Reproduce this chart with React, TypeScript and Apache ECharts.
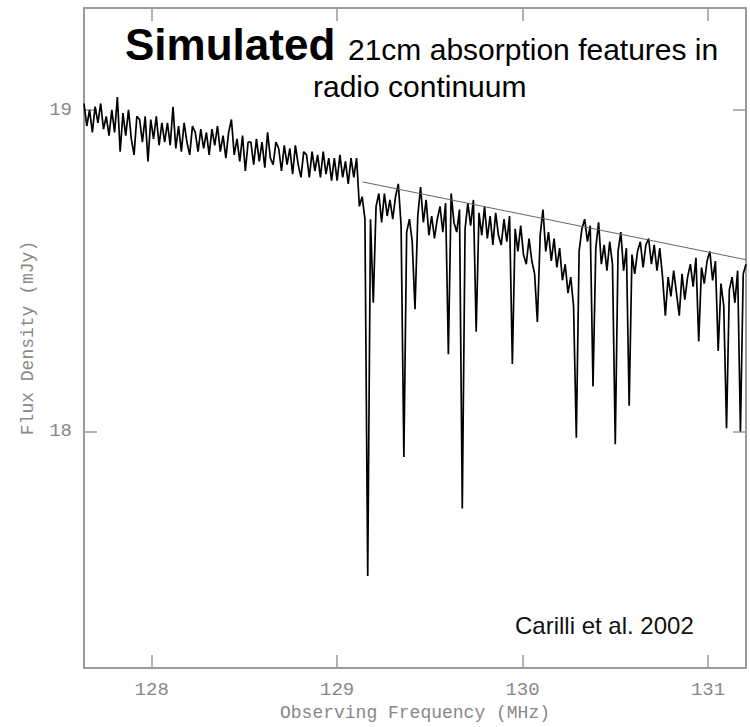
import React, { useEffect, useRef } from "react";
import * as echarts from "echarts";

// Observed spectrum sampled on a regular frequency grid (MHz)
const freqStart = 127.635;
const freqStep = 0.015;
// Flux density (mJy)
const fluxValues = [
  // 127.635 onwards: smooth continuum with noise
  19.02, 18.95, 19.0, 18.93, 19.01, 18.96, 19.02, 18.94, 18.98, 18.92,
  19.0, 18.93, 19.04, 18.87, 18.99, 18.92, 19.0, 18.91, 18.86, 18.98,
  18.97, 18.9, 18.98, 18.84, 18.97, 18.91, 18.98, 18.89, 18.96, 18.9,
  18.96, 18.89, 19.01, 18.88, 18.95, 18.87, 18.96, 18.9, 18.86, 18.95,
  18.93, 18.87, 18.94, 18.88, 18.93, 18.86, 18.94, 18.89, 18.95, 18.87,
  18.92, 18.85, 18.93, 18.97, 18.86, 18.91, 18.84, 18.92, 18.81, 18.9,
  18.9, 18.83, 18.91, 18.84, 18.9, 18.82, 18.93, 18.85, 18.83, 18.9,
  18.88, 18.81, 18.89, 18.83, 18.88, 18.8, 18.89, 18.83, 18.79, 18.87,
  18.86, 18.79, 18.87, 18.81, 18.86, 18.79, 18.87, 18.8, 18.85, 18.78,
  18.85, 18.78, 18.86, 18.79, 18.84, 18.77, 18.85, 18.79, 18.85, 18.7,
  // 129.135 onwards: absorption region
  18.73, 18.66, 17.55, 18.66, 18.4, 18.7, 18.74, 18.65, 18.74, 18.67,
  18.72, 18.66, 18.73, 18.77, 18.64, 17.92, 18.62, 18.66, 18.59, 18.38,
  18.67, 18.76, 18.65, 18.72, 18.61, 18.67, 18.6, 18.66, 18.7, 18.62,
  18.71, 18.24, 18.74, 18.65, 18.62, 18.69, 17.76, 18.63, 18.71, 18.64,
  18.72, 18.31, 18.68, 18.61, 18.7, 18.6, 18.67, 18.58, 18.68, 18.61,
  18.58, 18.66, 18.59, 18.67, 18.21, 18.63, 18.56, 18.64, 18.55, 18.52,
  18.6, 18.53, 18.49, 18.34, 18.61, 18.69, 18.56, 18.62, 18.53, 18.6,
  18.51, 18.57, 18.47, 18.52, 18.43, 18.48, 18.39, 17.98, 18.56, 18.63,
  18.66, 18.59, 18.64, 18.14, 18.57, 18.65, 18.52, 18.58, 18.5, 18.59,
  18.52, 17.96, 18.56, 18.62, 18.5, 18.57, 18.08, 18.55, 18.49, 18.56,
  18.59, 18.51, 18.58, 18.6, 18.52, 18.58, 18.5, 18.57, 18.48, 18.36,
  18.48, 18.42, 18.5, 18.43, 18.36, 18.49, 18.41, 18.48, 18.52, 18.45,
  18.54, 18.28, 18.51, 18.46, 18.53, 18.56, 18.47, 18.53, 18.25, 18.46,
  18.39, 18.01, 18.44, 18.48, 18.4, 18.5, 18.0, 18.49, 18.52,
];

// Fitted continuum line
const continuumFreq = [129.137, 131.205];
const continuumFlux = [18.776, 18.534];

const xTicks = [128, 129, 130, 131];
const yTicks = [18, 19];
const xRange = [127.635, 131.205];
const yRange = [17.264, 19.317];

const titleBold = "Simulated";
const titleRest = "21cm absorption features in";
const titleLine2 = "radio continuum";
const credit = "Carilli et al. 2002";
const xName = "Observing Frequency (MHz)";
const yName = "Flux Density (mJy)";

export default function App() {
  const ref = useRef<HTMLDivElement>(null);
  useEffect(() => {
    if (!ref.current) return;
    const chart = echarts.init(ref.current, null, { renderer: "svg" });
    const spectrum = fluxValues.map((v, i) => [
      +(freqStart + i * freqStep).toFixed(3),
      v,
    ]);
    const continuum = continuumFreq.map((f, i) => [f, continuumFlux[i]]);
    const axisGray = "#9a9a9a";
    const labelFont = "'Liberation Mono', 'DejaVu Sans Mono', monospace";
    const sans = "'Helvetica Neue', 'Liberation Sans', Arial, sans-serif";
    const tick = (vals: number[]) => ({
      show: true,
      inside: true,
      length: 13,
      customValues: vals,
      lineStyle: { color: axisGray, width: 1.5 },
    });
    const frameAxis = (extra: any) => ({
      type: "value",
      axisLine: { show: true, onZero: false, lineStyle: { color: axisGray, width: 2 } },
      splitLine: { show: false },
      ...extra,
    });
    chart.setOption({
      animation: false,
      backgroundColor: "#ffffff",
      grid: { left: 84, right: 4, top: 8, bottom: 58, containLabel: false },
      xAxis: [
        frameAxis({
          position: "bottom",
          min: xRange[0],
          max: xRange[1],
          name: xName,
          nameLocation: "middle",
          nameGap: 36,
          nameTextStyle: { color: "#888", fontFamily: labelFont, fontSize: 18 },
          axisTick: tick(xTicks),
          axisLabel: {
            show: true,
            customValues: xTicks,
            margin: 12,
            color: "#888",
            fontFamily: labelFont,
            fontSize: 19,
          },
        }),
        frameAxis({
          position: "top",
          min: xRange[0],
          max: xRange[1],
          axisTick: tick(xTicks),
          axisLabel: { show: false },
        }),
      ],
      yAxis: [
        frameAxis({
          position: "left",
          min: yRange[0],
          max: yRange[1],
          name: yName,
          nameLocation: "middle",
          nameGap: 47,
          nameRotate: 90,
          nameTextStyle: { color: "#888", fontFamily: labelFont, fontSize: 18 },
          axisTick: tick(yTicks),
          axisLabel: {
            show: true,
            customValues: yTicks,
            margin: 12,
            color: "#888",
            fontFamily: labelFont,
            fontSize: 19,
          },
        }),
        frameAxis({
          position: "right",
          min: yRange[0],
          max: yRange[1],
          axisTick: tick(yTicks),
          axisLabel: { show: false },
        }),
      ],
      series: [
        {
          type: "line",
          name: "spectrum",
          xAxisIndex: 0,
          yAxisIndex: 0,
          data: spectrum,
          showSymbol: false,
          symbol: "none",
          lineStyle: { color: "#000", width: 1.7 },
          z: 3,
        },
        {
          type: "line",
          name: "continuum",
          xAxisIndex: 0,
          yAxisIndex: 0,
          data: continuum,
          showSymbol: false,
          symbol: "none",
          lineStyle: { color: "#666", width: 1 },
          z: 4,
        },
      ],
      graphic: [
        {
          type: "text",
          left: 125,
          top: 22,
          style: {
            text: titleBold,
            fill: "#000",
            fontFamily: sans,
            fontWeight: "bold",
            fontSize: 44,
          },
        },
        {
          type: "text",
          left: 348,
          top: 34,
          style: {
            text: titleRest,
            fill: "#000",
            fontFamily: sans,
            fontWeight: "normal",
            fontSize: 30,
          },
        },
        {
          type: "text",
          left: 313,
          top: 71,
          style: {
            text: titleLine2,
            fill: "#000",
            fontFamily: sans,
            fontWeight: "normal",
            fontSize: 30,
          },
        },
        {
          type: "text",
          left: 515,
          top: 613,
          style: {
            text: credit,
            fill: "#111",
            fontFamily: sans,
            fontSize: 24,
          },
        },
      ],
    });
    return () => chart.dispose();
  }, []);
  return (
    <div
      ref={ref}
      style={{ position: "absolute", left: 0, top: 0, width: 750, height: 727 }}
    />
  );
}
